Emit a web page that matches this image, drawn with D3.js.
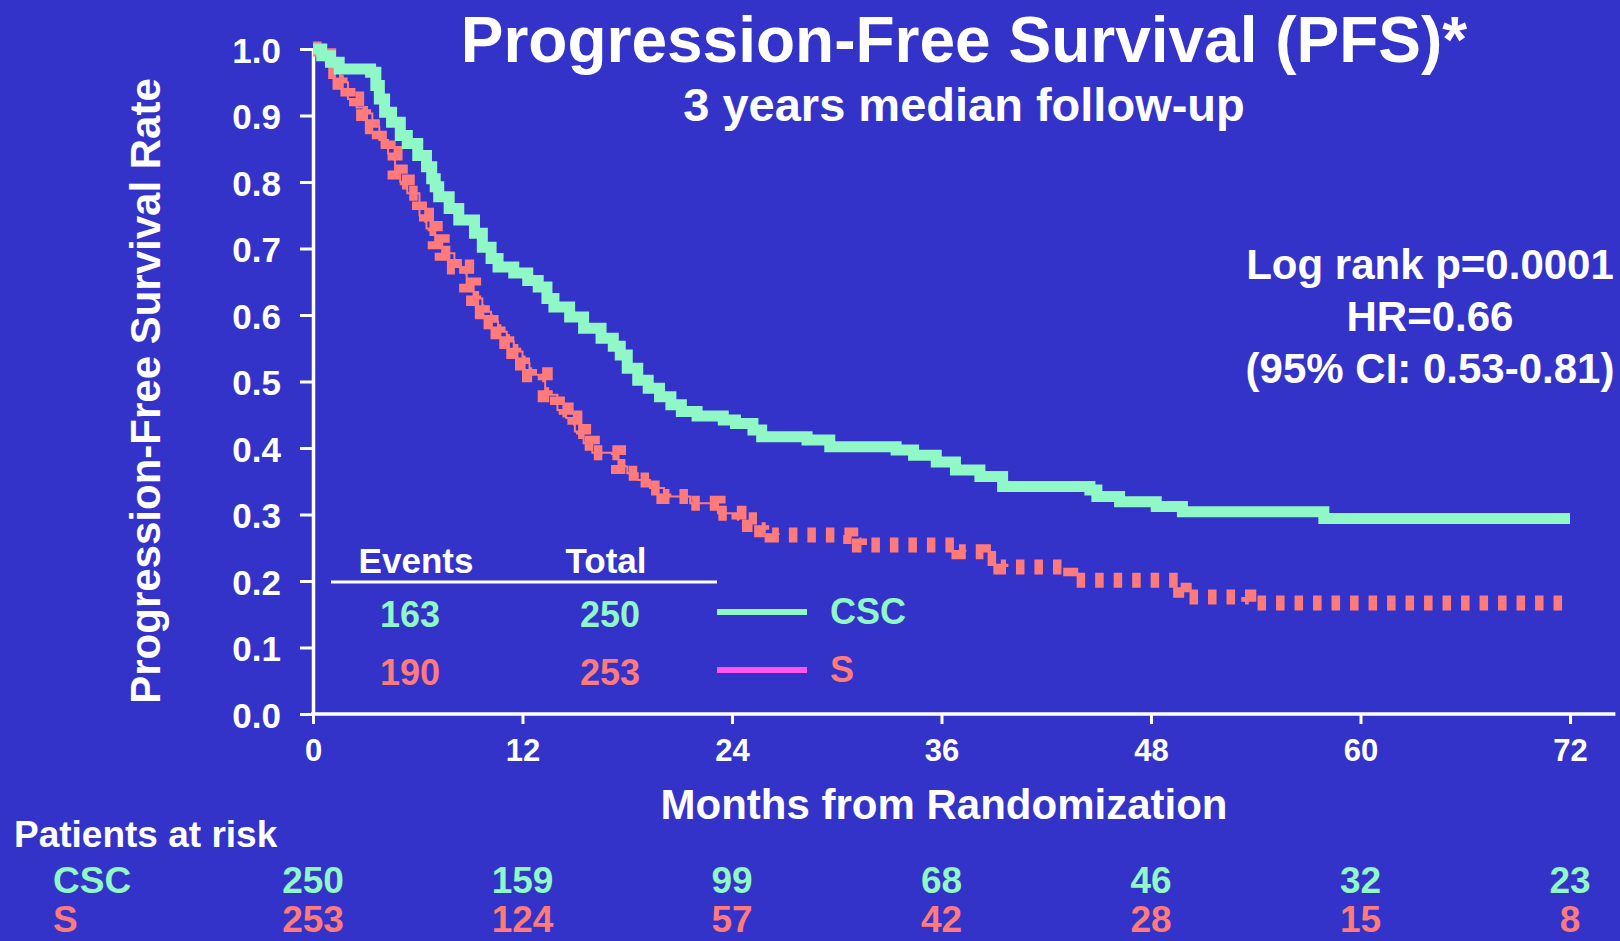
<!DOCTYPE html>
<meta charset="utf-8">
<script src="https://d3js.org/d3.v7.min.js"></script>
<style>
  body { margin: 0; background: #3433c9; }
  svg text { font-family: "Liberation Sans", Arial, sans-serif; font-weight: bold; }
</style>
<div id="my_dataviz"></div>
<script>

// Kaplan-Meier steps (months, survival)
var cscTime = [0, 0.5, 1.0, 1.5, 3.3, 3.6, 3.8, 4.1, 4.5, 5.0, 5.4, 6.0, 6.5, 6.8, 7.0, 7.2, 7.8, 8.35, 9.25, 9.7, 10.2, 10.6, 11.5, 12.3, 12.9, 13.4, 13.8, 14.7, 15.5, 16.5, 17.2, 17.6, 18.0, 18.6, 19.2, 19.85, 20.5, 21.1, 22.0, 23.5, 24.2, 25.2, 25.7, 28.3, 29.6, 33.4, 34.4, 35.7, 36.8, 38.2, 39.5, 44.5, 44.9, 46.2, 48.3, 49.8, 57.9, 72];
var cscSurv = [1.0, 0.99, 0.98, 0.97, 0.965, 0.945, 0.925, 0.905, 0.89, 0.87, 0.858, 0.84, 0.823, 0.805, 0.793, 0.778, 0.76, 0.743, 0.723, 0.702, 0.685, 0.672, 0.663, 0.652, 0.642, 0.625, 0.612, 0.597, 0.58, 0.565, 0.553, 0.54, 0.52, 0.502, 0.49, 0.477, 0.465, 0.455, 0.448, 0.442, 0.437, 0.427, 0.417, 0.412, 0.402, 0.397, 0.389, 0.379, 0.367, 0.357, 0.342, 0.337, 0.327, 0.319, 0.312, 0.304, 0.294, 0.294];

var sTime = [0, 0.5, 0.9, 1.3, 1.55, 2.0, 2.5, 2.9, 3.4, 3.8, 4.3, 4.7, 5.0, 5.4, 6.1, 6.5, 7.0, 7.4, 8.1, 8.8, 9.2, 9.7, 10.2, 10.6, 11.1, 11.5, 12.0, 12.4, 13.3, 14.0, 14.5, 15.0, 15.5, 16.0, 17.5, 18.0, 18.6, 19.3, 20.1, 21.6, 23.2, 24.4, 25.0, 25.7, 26.3, 30.8, 31.3, 37.0, 38.4, 39.4, 43.4, 49.7, 49.9, 53.6, 72];
var sSurv = [1.0, 0.99, 0.98, 0.966, 0.95, 0.925, 0.912, 0.903, 0.883, 0.863, 0.843, 0.815, 0.8, 0.783, 0.75, 0.73, 0.71, 0.693, 0.672, 0.645, 0.625, 0.605, 0.59, 0.575, 0.56, 0.545, 0.528, 0.51, 0.48, 0.457, 0.445, 0.425, 0.407, 0.393, 0.372, 0.362, 0.352, 0.34, 0.327, 0.317, 0.302, 0.292, 0.285, 0.277, 0.269, 0.267, 0.254, 0.244, 0.234, 0.221, 0.201, 0.186, 0.176, 0.167, 0.167];

// numbers at risk
var riskTimes = [0, 12, 24, 36, 48, 60, 72];
var riskCSC = [250, 159, 99, 68, 46, 32, 23];
var riskS = [253, 124, 57, 42, 28, 15, 8];

var yTicks = [0, 0.1, 0.2, 0.3, 0.4, 0.5, 0.6, 0.7, 0.8, 0.9, 1.0];
var xTicks = [0, 12, 24, 36, 48, 60, 72];

var bg = "#3433c9", green = "#90f7c6", salmon = "#ff7b7b", pink = "#ff55ee";

var width = 1620, height = 941;

var svg = d3.select("#my_dataviz")
  .append("svg")
    .attr("width", width)
    .attr("height", height)
    .style("background", bg);

var x = d3.scaleLinear().domain([0, 72]).range([313, 1570]);
var y = d3.scaleLinear().domain([0, 1]).range([714, 49]);

// Y axis
var yAxis = svg.append("g")
  .attr("transform", "translate(" + x(0) + ",0)")
  .call(d3.axisLeft(y).tickValues(yTicks).tickFormat(d3.format(".1f"))
    .tickSize(13).tickSizeOuter(0).tickPadding(19));
yAxis.select(".domain").attr("stroke", "#fff").attr("stroke-width", 3.5);
yAxis.selectAll(".tick line").attr("stroke", "#fff").attr("stroke-width", 3);
yAxis.selectAll(".tick text").attr("fill", "#fff").style("font-size", "35px").attr("dy", "0.38em");

// X axis
var xAxis = svg.append("g")
  .attr("transform", "translate(0," + y(0) + ")")
  .call(d3.axisBottom(x).tickValues(xTicks).tickSize(10).tickSizeOuter(0).tickPadding(15));
xAxis.select(".domain").remove();
xAxis.selectAll(".tick line").attr("stroke", "#fff").attr("stroke-width", 3);
xAxis.selectAll(".tick text").attr("fill", "#fff").style("font-size", "31px");
xAxis.append("line")
  .attr("x1", x(0) - 2).attr("x2", x(74.6))
  .attr("stroke", "#fff").attr("stroke-width", 3.5);

// curves
var line = d3.line()
  .curve(d3.curveStepAfter)
  .x(function(d) { return x(d[0]); })
  .y(function(d) { return y(d[1]); });

var sData = d3.zip(sTime, sSurv);

// thin connecting line on the steep early part of S
svg.append("path")
  .datum(sData.filter(function(d) { return d[0] <= 24.4; }))
  .attr("d", line)
  .attr("fill", "none")
  .attr("stroke", salmon)
  .attr("stroke-width", 2);

svg.append("path")
  .datum(sData)
  .attr("d", line)
  .attr("fill", "none")
  .attr("stroke", salmon)
  .attr("stroke-width", 15)
  .attr("stroke-dasharray", "8.5,10");

svg.append("path")
  .datum(d3.zip(cscTime, cscSurv))
  .attr("d", line)
  .attr("fill", "none")
  .attr("stroke", green)
  .attr("stroke-width", 11);

// titles
svg.append("text").attr("x", 964).attr("y", 62).attr("text-anchor", "middle")
  .style("font-size", "64px").attr("fill", "#fff").text("Progression-Free Survival (PFS)*");
svg.append("text").attr("x", 964).attr("y", 121).attr("text-anchor", "middle")
  .style("font-size", "47px").attr("fill", "#fff").text("3 years median follow-up");

// axis titles
svg.append("text").attr("transform", "translate(160,391) rotate(-90)").attr("text-anchor", "middle")
  .style("font-size", "42px").attr("fill", "#fff").text("Progression-Free Survival Rate");
svg.append("text").attr("x", 944).attr("y", 819).attr("text-anchor", "middle")
  .style("font-size", "42px").attr("fill", "#fff").text("Months from Randomization");

// stats
var stats = ["Log rank p=0.0001", "HR=0.66", "(95% CI: 0.53-0.81)"];
svg.selectAll(".stat").data(stats).enter().append("text")
  .attr("x", 1430).attr("y", function(d, i) { return 279 + i * 52; })
  .attr("text-anchor", "middle").style("font-size", "42px").attr("fill", "#fff")
  .text(function(d) { return d; });

// events table + legend
svg.append("text").attr("x", 416).attr("y", 573).attr("text-anchor", "middle")
  .style("font-size", "35px").attr("fill", "#fff").text("Events");
svg.append("text").attr("x", 606).attr("y", 573).attr("text-anchor", "middle")
  .style("font-size", "35px").attr("fill", "#fff").text("Total");
svg.append("line").attr("x1", 331).attr("x2", 717).attr("y1", 582).attr("y2", 582)
  .attr("stroke", "#fff").attr("stroke-width", 3);

var legendRows = [
  {ev: 163, tot: 250, name: "CSC", col: green, lineCol: green, yy: 627},
  {ev: 190, tot: 253, name: "S", col: salmon, lineCol: pink, yy: 685}
];
legendRows.forEach(function(r) {
  svg.append("text").attr("x", 410).attr("y", r.yy).attr("text-anchor", "middle")
    .style("font-size", "36px").attr("fill", r.col).text(r.ev);
  svg.append("text").attr("x", 610).attr("y", r.yy).attr("text-anchor", "middle")
    .style("font-size", "36px").attr("fill", r.col).text(r.tot);
  svg.append("line").attr("x1", 717).attr("x2", 807).attr("y1", r.yy - 15).attr("y2", r.yy - 15)
    .attr("stroke", r.lineCol).attr("stroke-width", 6);
  svg.append("text").attr("x", 830).attr("y", r.yy - 3)
    .style("font-size", "36px").attr("fill", r.col).text(r.name);
});

// patients at risk
svg.append("text").attr("x", 14).attr("y", 847)
  .style("font-size", "37px").attr("fill", "#fff").text("Patients at risk");
svg.append("text").attr("x", 53).attr("y", 893)
  .style("font-size", "37px").attr("fill", green).text("CSC");
svg.append("text").attr("x", 53).attr("y", 932)
  .style("font-size", "37px").attr("fill", salmon).text("S");

svg.selectAll(".riskCSC").data(riskCSC).enter().append("text")
  .attr("x", function(d, i) { return x(riskTimes[i]); })
  .attr("y", 893).attr("text-anchor", "middle")
  .style("font-size", "37px").attr("fill", green)
  .text(function(d) { return d; });
svg.selectAll(".riskS").data(riskS).enter().append("text")
  .attr("x", function(d, i) { return x(riskTimes[i]); })
  .attr("y", 932).attr("text-anchor", "middle")
  .style("font-size", "37px").attr("fill", salmon)
  .text(function(d) { return d; });

</script>
